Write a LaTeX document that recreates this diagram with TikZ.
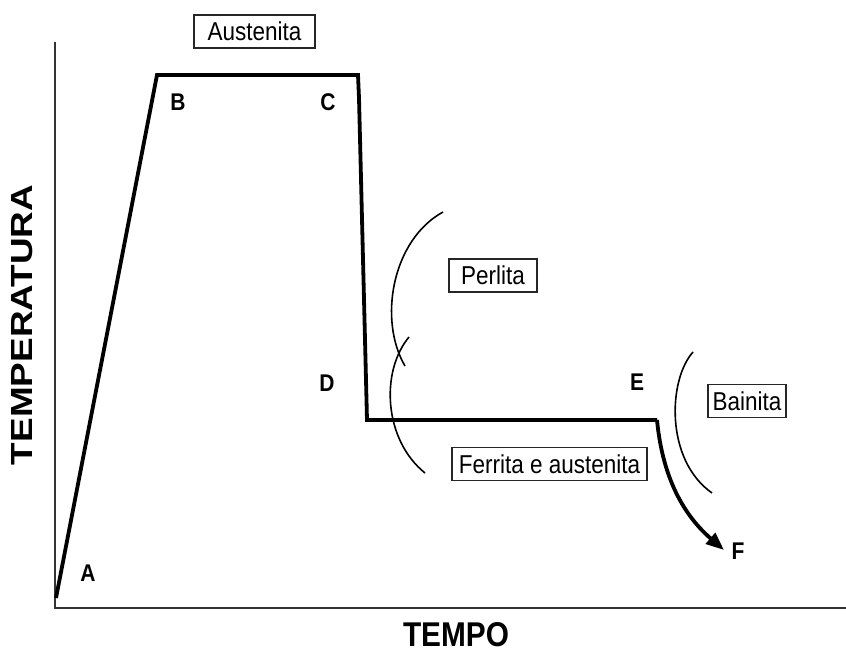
\documentclass[tikz,border=0pt]{standalone}
\usepackage{fontspec}
\setmainfont{Liberation Sans}
\usepackage{graphicx}
\usepackage{tikz}
\usetikzlibrary{arrows.meta}

\newcommand{\tall}[1]{\scalebox{1}[1.15]{#1}}

\tikzset{
  phase/.style={draw=black!85, line width=1.1pt, inner sep=0pt, minimum height=33pt,
    font=\fontsize{22.5}{22.5}\selectfont},
  letter/.style={font=\bfseries\fontsize{21}{21}\selectfont},
  cycle/.style={line width=3.8pt, line join=miter},
  region/.style={line width=1.6pt}
}

\begin{document}
\begin{tikzpicture}[x=1pt, y=-1pt]
  \useasboundingbox (0,0) rectangle (846,655);

  % axes
  \coordinate (ytop) at (55,42);
  \coordinate (orig) at (55,608);
  \coordinate (xend) at (846,608);
  \draw[line width=1.5pt, black!80] (ytop) -- (orig) -- (xend);
  \node (ylab) at (22,325) [rotate=90] {\resizebox{280pt}{21pt}{\bfseries TEMPERATURA}};
  \node[inner sep=0pt] (xlab) at (456,635) {\resizebox{106pt}{24pt}{\bfseries TEMPO}};

  % heat treatment path
  \coordinate (a) at (56,598);
  \coordinate (b) at (157,75);
  \coordinate (c) at (358,75);
  \coordinate (c2) at (359,98);
  \coordinate (d) at (367,420);
  \coordinate (e) at (657,420);
  \coordinate (f) at (724,550);
  \draw[cycle] (a) -- (b) -- (c) -- (c2) -- (d) -- (e);
  \draw[cycle, -{Triangle[length=18pt,width=14pt]}] (e) .. controls (662,472) and (680,512) .. (f);

  % letters
  \node[letter] (lA) at (88,573) {\tall{A}};
  \node[letter] (lB) at (178,102) {\tall{B}};
  \node[letter] (lC) at (328,102) {\tall{C}};
  \node[letter] (lD) at (327,383) {\tall{D}};
  \node[letter] (lE) at (637,382) {\tall{E}};
  \node[letter] (lF) at (738,551) {\tall{F}};

  % transformation curves
  \draw[region] (443,212) .. controls (392,240) and (378,320) .. (405,366);
  \draw[region] (409,337) .. controls (380,372) and (384,440) .. (425,473);
  \draw[region] (693,352) .. controls (668,380) and (665,460) .. (712,493);

  % phase boxes
  \node[phase, minimum width=121pt] (aus) at (254.5,31.5) {\tall{Austenita}};
  \node[phase, minimum width=88pt] (per) at (493,275.5) {\tall{Perlita}};
  \node[phase, minimum width=195pt] (fer) at (549.5,464) {\tall{Ferrita e austenita}};
  \node[phase, minimum width=78pt] (bai) at (747,401) {\tall{Bainita}};
\end{tikzpicture}
\end{document}
